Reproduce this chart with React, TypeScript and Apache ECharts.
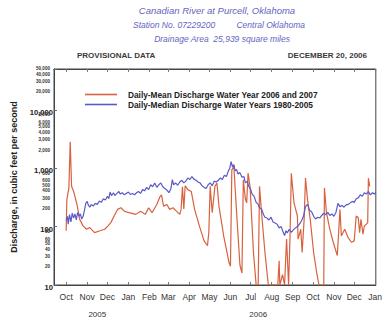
import React, { useEffect, useRef } from "react";
import * as echarts from "echarts";

// ---- data (days counted from Oct 1, 2005) ----
const monthNames = ["Jan", "Feb", "Mar", "Apr", "May", "Jun", "Jul", "Aug", "Sep", "Oct", "Nov", "Dec"];
const axisStartDay = -18;
const axisEndDay = 458;

const meanDays = [0, 1, 4, 6, 8, 11, 16, 20, 25, 30, 35, 42, 50, 57, 62, 66, 71, 76, 81, 86, 93, 103, 110, 117, 122, 127, 134, 139, 141, 144, 149, 153, 158, 163, 168, 170, 172, 174, 176, 180, 185, 190, 197, 204, 209, 211, 213, 216, 220, 223, 226, 233, 241, 243, 245, 248, 253, 257, 260, 262, 265, 267, 269, 272, 277, 281, 284, 286, 289, 294, 299, 313, 315, 316, 320, 323, 326, 329, 331, 333, 337, 342, 343, 347, 349, 352, 354, 357, 361, 366, 371, 374, 381, 382, 385, 390, 395, 401, 405, 407, 412, 417, 422, 426, 429, 432, 434, 436, 439, 441, 444, 446, 447, 449];
const meanValues = [85, 290, 460, 2830, 490, 400, 239, 133, 103, 90, 96, 79, 85, 90, 103, 117, 152, 197, 210, 184, 173, 162, 184, 162, 210, 173, 239, 330, 350, 224, 239, 197, 210, 184, 162, 197, 480, 200, 500, 430, 400, 197, 103, 57, 47, 80, 489, 173, 489, 557, 224, 69, 24, 21, 937, 1070, 117, 22, 16, 634, 300, 255, 822, 489, 36, 10, 10, 489, 173, 36, 10, 10, 26, 10, 15, 10, 61, 10, 61, 822, 255, 152, 61, 90, 36, 133, 676, 290, 133, 36, 15, 10, 10, 460, 173, 90, 54, 32, 197, 69, 90, 65, 54, 57, 152, 142, 79, 133, 74, 103, 110, 117, 676, 489];

const medianDays = [0, 2, 3, 5, 7, 9, 11, 13, 15, 17, 19, 21, 23, 25, 27, 29, 31, 33, 35, 37, 40, 43, 46, 49, 52, 55, 58, 61, 63, 65, 67, 70, 72, 75, 78, 80, 83, 86, 89, 92, 95, 98, 101, 104, 107, 110, 113, 116, 119, 122, 125, 128, 131, 134, 137, 140, 143, 146, 149, 152, 155, 157, 159, 162, 165, 168, 171, 174, 177, 180, 183, 186, 189, 192, 195, 198, 201, 204, 207, 210, 213, 216, 219, 222, 225, 228, 231, 234, 237, 240, 242, 244, 246, 248, 250, 252, 254, 257, 260, 263, 265, 268, 270, 273, 275, 278, 281, 284, 286, 289, 292, 294, 297, 300, 303, 306, 309, 312, 315, 318, 321, 323, 325, 327, 330, 333, 336, 339, 342, 345, 348, 351, 354, 357, 360, 363, 366, 369, 372, 375, 378, 381, 384, 387, 390, 393, 396, 399, 402, 405, 408, 411, 414, 417, 420, 423, 426, 429, 432, 435, 438, 441, 444, 447, 450, 453, 456, 458];
const medianValues = [125, 150, 110, 160, 120, 170, 140, 165, 130, 175, 150, 165, 135, 150, 190, 250, 270, 230, 215, 240, 225, 250, 240, 275, 260, 300, 285, 330, 300, 390, 340, 380, 340, 370, 400, 360, 380, 350, 370, 390, 355, 370, 350, 380, 400, 370, 430, 410, 470, 430, 520, 480, 560, 470, 520, 560, 480, 450, 420, 380, 450, 640, 520, 560, 510, 580, 620, 560, 600, 680, 640, 720, 650, 620, 580, 560, 500, 470, 450, 520, 560, 500, 600, 580, 620, 680, 640, 760, 720, 900, 1000, 1300, 1050, 1150, 900, 950, 800, 840, 700, 720, 560, 600, 490, 430, 360, 330, 260, 240, 210, 200, 160, 145, 140, 130, 145, 120, 115, 110, 95, 100, 80, 70, 85, 78, 90, 80, 88, 95, 100, 110, 125, 150, 220, 240, 190, 180, 150, 135, 145, 140, 155, 170, 160, 175, 155, 165, 150, 175, 250, 220, 230, 215, 235, 240, 255, 270, 260, 300, 310, 350, 330, 380, 360, 400, 350, 380, 360, 390];

const majorTicks = [10, 100, 1000, 10000];
const minorTicks = [20, 30, 40, 50, 60, 80, 200, 300, 400, 500, 600, 800, 2000, 3000, 4000, 5000, 6000, 8000, 20000, 30000, 40000, 50000];
const yearLabels = [
  { text: "2005", day: 46 },
  { text: "2006", day: 284 },
];

const seriesNames = [
  "Daily-Mean Discharge Water Year 2006 and 2007",
  "Daily-Median Discharge Water Years 1980-2005",
];

const ORIGIN = Date.UTC(2005, 9, 1);
function dayToDate(d: number): string {
  return new Date(ORIGIN + d * 86400000).toISOString().slice(0, 10);
}

const categories: string[] = [];
for (let d = axisStartDay; d <= axisEndDay; d++) categories.push(dayToDate(d));

const FONT = "Liberation Sans, Arial, sans-serif";
const RED = "#d8623f";
const BLUE = "#5a5ac6";
const TITLE_BLUE = "#6464be";

const fmt = (v: number) => v.toLocaleString("en-US");

export default function App() {
  const ref = useRef<HTMLDivElement>(null);
  useEffect(() => {
    document.body.style.margin = "0";
    if (!ref.current) return;
    const chart = echarts.init(ref.current, null, { renderer: "svg" });
    const isMonthStart = (_i: number, v: string) => v.endsWith("-01");
    chart.setOption({
      animation: false,
      backgroundColor: "#ffffff",
      grid: { left: 54, right: 2, top: 69, bottom: 40, show: true, borderColor: "#444", borderWidth: 1 },
      legend: {
        left: 80,
        top: 85,
        orient: "vertical",
        icon: "rect",
        itemWidth: 32,
        itemHeight: 1.6,
        itemGap: 1,
        data: seriesNames,
        textStyle: { fontSize: 8.3, fontWeight: "bold", color: "#222", fontFamily: FONT, padding: [0, 0, 0, 6], lineHeight: 9 },
      },
      xAxis: [
        {
          type: "category",
          data: categories,
          boundaryGap: false,
          axisLine: { lineStyle: { color: "#444", width: 1 } },
          axisTick: { inside: true, length: 3, interval: isMonthStart, lineStyle: { color: "#777" } },
          axisLabel: {
            interval: isMonthStart,
            formatter: (v: string) => monthNames[parseInt(v.slice(5, 7), 10) - 1],
            fontSize: 8.5,
            color: "#333",
            fontFamily: FONT,
            margin: 7,
          },
          splitLine: { show: false },
        },
        {
          type: "category",
          data: categories,
          boundaryGap: false,
          position: "top",
          axisLine: { lineStyle: { color: "#444", width: 1 } },
          axisTick: { inside: true, length: 3, interval: isMonthStart, lineStyle: { color: "#777" } },
          axisLabel: { show: false },
          splitLine: { show: false },
        },
      ],
      yAxis: [
        {
          type: "log",
          logBase: 10,
          min: 10,
          max: 50000,
          axisLine: { show: true, lineStyle: { color: "#444" } },
          axisTick: { show: true, inside: true, length: 3, lineStyle: { color: "#666" } },
          axisLabel: { show: false },
          splitLine: { show: false },
          name: "Discharge, in cubic feet per second",
          nameLocation: "middle",
          nameGap: 36,
          nameTextStyle: { fontSize: 9, fontWeight: "bold", color: "#222", fontFamily: FONT },
        },
      ],
      series: [
        {
          name: seriesNames[0],
          type: "line",
          symbol: "none",
          data: meanDays.map((d, i) => [dayToDate(d), meanValues[i]]),
          lineStyle: { color: RED, width: 1.2 },
          itemStyle: { color: RED },
          z: 2,
        },
        {
          name: seriesNames[1],
          type: "line",
          symbol: "none",
          data: medianDays.map((d, i) => [dayToDate(d), medianValues[i]]),
          lineStyle: { color: BLUE, width: 1.2 },
          itemStyle: { color: BLUE },
          z: 3,
        },
      ],
    });

    const graphics: any[] = [];
    majorTicks.forEach((v) => {
      const y = chart.convertToPixel({ yAxisIndex: 0 }, v) as number;
      graphics.push({
        type: "text",
        x: 53,
        y: y + 2.5,
        style: { text: fmt(v), fontSize: 7.6, fontWeight: "bold", fill: "#222", fontFamily: FONT, align: "right", verticalAlign: "middle" },
      });
    });
    minorTicks.forEach((v) => {
      const y = chart.convertToPixel({ yAxisIndex: 0 }, v) as number;
      graphics.push({
        type: "text",
        x: 50,
        y: y - 0.5,
        style: { text: fmt(v), fontSize: 4.6, fontWeight: "bold", fill: "#333", fontFamily: FONT, align: "right", verticalAlign: "middle" },
      });
    });
    yearLabels.forEach((yl) => {
      const x = chart.convertToPixel({ xAxisIndex: 0 }, dayToDate(yl.day)) as number;
      graphics.push({
        type: "text",
        x,
        y: 314,
        style: { text: yl.text, fontSize: 8, fill: "#333", fontFamily: FONT, align: "center", verticalAlign: "middle" },
      });
    });
    const titleStyle = { fill: TITLE_BLUE, fontStyle: "italic", fontFamily: FONT, verticalAlign: "middle" };
    graphics.push(
      { type: "text", x: 217, y: 10, style: { ...titleStyle, text: "Canadian River at Purcell, Oklahoma", fontSize: 9.5, align: "center" } },
      { type: "text", x: 133, y: 25, style: { ...titleStyle, text: "Station No. 07229200", fontSize: 8.5, align: "left" } },
      { type: "text", x: 305, y: 25, style: { ...titleStyle, text: "Central Oklahoma", fontSize: 8.5, align: "right" } },
      { type: "text", x: 222, y: 39, style: { ...titleStyle, text: "Drainage Area  25,939 square miles", fontSize: 8.5, align: "center" } },
      { type: "text", x: 77, y: 55, style: { text: "PROVISIONAL DATA", fontSize: 8, fontWeight: "bold", fill: "#3a3a3a", fontFamily: FONT, align: "left", verticalAlign: "middle" } },
      { type: "text", x: 367, y: 55, style: { text: "DECEMBER 20, 2006", fontSize: 8, fontWeight: "bold", fill: "#3a3a3a", fontFamily: FONT, align: "right", verticalAlign: "middle" } }
    );
    chart.setOption({ graphic: graphics });

    return () => chart.dispose();
  }, []);
  return <div ref={ref} style={{ width: 385, height: 325 }} />;
}
